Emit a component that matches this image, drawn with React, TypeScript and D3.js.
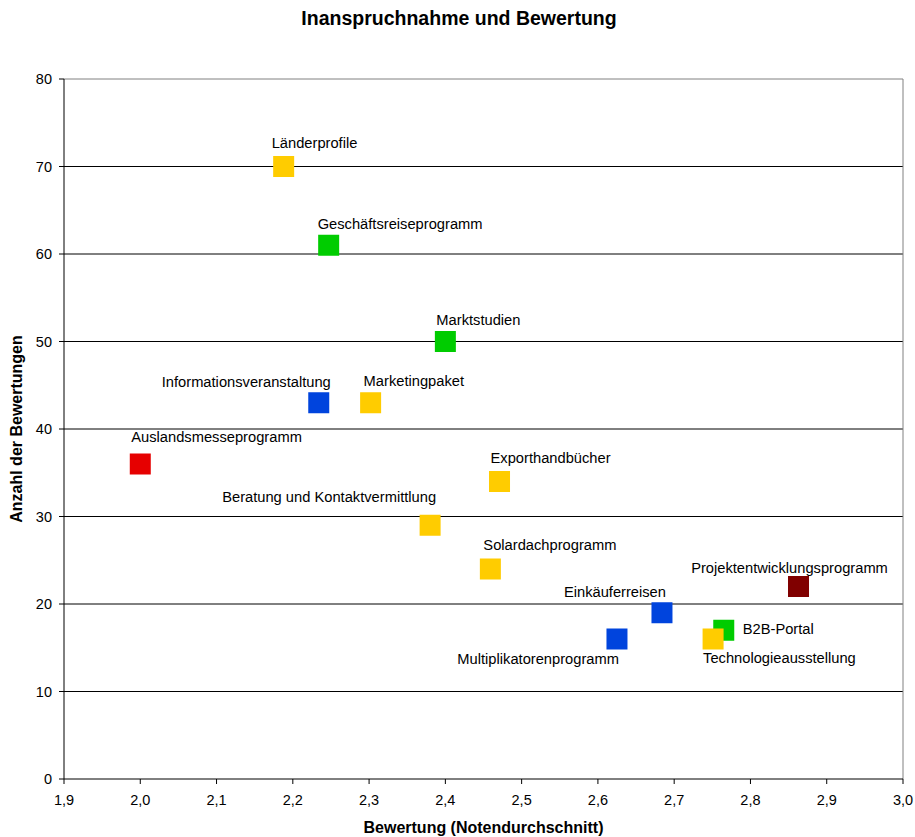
import React from "react";
import * as d3 from "d3";

const names = [
  "Länderprofile",
  "Geschäftsreiseprogramm",
  "Marktstudien",
  "Informationsveranstaltung",
  "Marketingpaket",
  "Auslandsmesseprogramm",
  "Exporthandbücher",
  "Beratung und Kontaktvermittlung",
  "Solardachprogramm",
  "Einkäuferreisen",
  "Multiplikatorenprogramm",
  "B2B-Portal",
  "Technologieausstellung",
  "Projektentwicklungsprogramm",
];
const bewertung = [2.188, 2.247, 2.4, 2.234, 2.302, 2.0, 2.471, 2.38, 2.459, 2.684, 2.625, 2.765, 2.751, 2.863];
const anzahl = [70, 61, 50, 43, 43, 36, 34, 29, 24, 19, 16, 17, 16, 22];
const colorGroup = ["yellow", "green", "green", "blue", "yellow", "red", "yellow", "yellow", "yellow", "blue", "blue", "green", "yellow", "darkred"];

const xTicks = [1.9, 2.0, 2.1, 2.2, 2.3, 2.4, 2.5, 2.6, 2.7, 2.8, 2.9, 3.0];
const yTicks = [0, 10, 20, 30, 40, 50, 60, 70, 80];

const palette: Record<string, string> = {
  yellow: "#FFCC00",
  green: "#00CC00",
  blue: "#0044DD",
  red: "#E60000",
  darkred: "#800000",
};

// label placement: [anchor, dx, dy]
const labelPlacement: [string, number, number][] = [
  ["start", -12, -19],
  ["start", -11, -16],
  ["start", -9, -17],
  ["end", 12, -16],
  ["start", -7, -17],
  ["start", -9, -22],
  ["start", -9, -19],
  ["end", 6, -23],
  ["start", -7, -19],
  ["end", 4, -16],
  ["end", 2, 25],
  ["start", 19, 4],
  ["start", -10, 24],
  ["middle", -9, -14],
];

export default function App() {
  const W = 915, H = 837;
  const left = 64, right = 903, top = 79, bottom = 779;
  const x = d3.scaleLinear().domain([1.9, 3.0]).range([left, right]);
  const y = d3.scaleLinear().domain([0, 80]).range([bottom, top]);
  const fmt = (v: number) => v.toFixed(1).replace(".", ",");
  const font = "Liberation Sans, Arial, sans-serif";
  const ms = 21;

  return (
    <svg width={W} height={H} style={{ position: "absolute", left: 0, top: 0, fontFamily: font }}>
      <rect x={0} y={0} width={W} height={H} fill="#fff" />
      <text x={459} y={25} textAnchor="middle" fontSize={19.5} fontWeight="bold">
        Inanspruchnahme und Bewertung
      </text>
      {yTicks.filter((t) => t > 0 && t < 80).map((t) => (
        <line key={t} x1={left} x2={right} y1={y(t)} y2={y(t)} stroke="#000" strokeWidth={1} />
      ))}
      <line x1={left} x2={right} y1={y(80)} y2={y(80)} stroke="#808080" strokeWidth={1} />
      <line x1={right} x2={right} y1={top} y2={bottom} stroke="#808080" strokeWidth={1} />
      <line x1={left} x2={left} y1={top} y2={bottom} stroke="#000" strokeWidth={1} />
      <line x1={left} x2={right} y1={bottom} y2={bottom} stroke="#000" strokeWidth={1} />
      {yTicks.map((t) => (
        <g key={t}>
          <line x1={left - 5} x2={left} y1={y(t)} y2={y(t)} stroke="#000" />
          <text x={52} y={y(t) + 5} textAnchor="end" fontSize={14.5}>{t}</text>
        </g>
      ))}
      {xTicks.map((t) => (
        <g key={t}>
          <line x1={x(t)} x2={x(t)} y1={bottom} y2={bottom + 5} stroke="#000" />
          <text x={x(t)} y={805} textAnchor="middle" fontSize={14.5}>{fmt(t)}</text>
        </g>
      ))}
      <text x={(left + right) / 2} y={833} textAnchor="middle" fontSize={16} fontWeight="bold">
        Bewertung (Notendurchschnitt)
      </text>
      <text transform={`translate(22, ${(top + bottom) / 2}) rotate(-90)`} textAnchor="middle" fontSize={16} fontWeight="bold">
        Anzahl der Bewertungen
      </text>
      {names.map((n, i) => (
        <rect key={n} x={x(bewertung[i]) - ms / 2} y={y(anzahl[i]) - ms / 2} width={ms} height={ms} fill={palette[colorGroup[i]]} />
      ))}
      {names.map((n, i) => {
        const [anchor, dx, dy] = labelPlacement[i];
        return (
          <text key={n + "l"} x={x(bewertung[i]) + dx} y={y(anzahl[i]) + dy} textAnchor={anchor} fontSize={14.7}>
            {n}
          </text>
        );
      })}
    </svg>
  );
}
